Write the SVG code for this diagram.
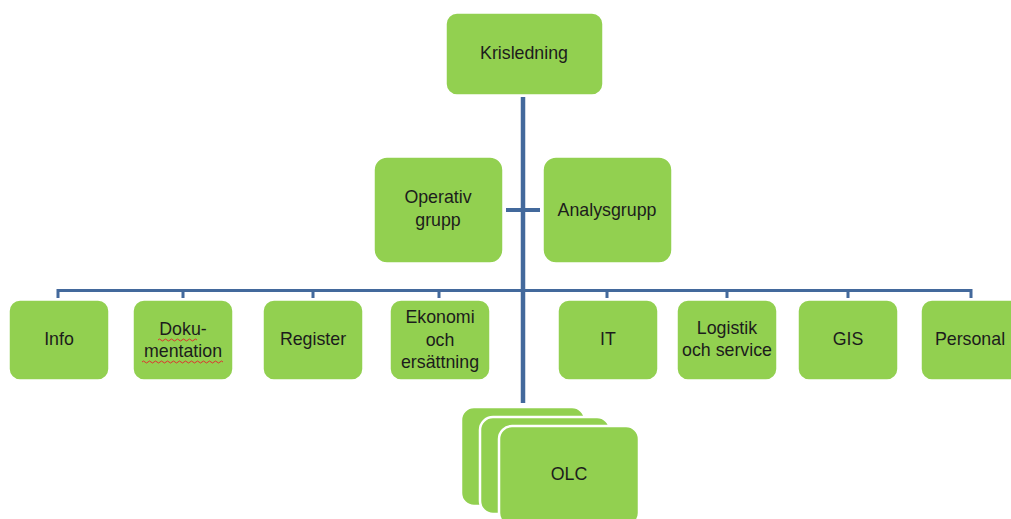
<svg xmlns="http://www.w3.org/2000/svg" width="1011" height="519" viewBox="0 0 1011 519">
<style>
.box{fill:#92d050;stroke:#ffffff;stroke-width:1.5}
.stk{fill:#92d050;stroke:#ffffff;stroke-width:2.5}
.t{font-family:"Liberation Sans",Arial,sans-serif;font-size:17.8px;fill:#1c1c1c;text-anchor:middle}
.ln{stroke:#43699c;fill:none}
</style>
<rect width="1011" height="519" fill="#ffffff"/>
<g id="connectors">
<line class="ln" x1="523" y1="97" x2="523" y2="403" stroke-width="4.5"/>
<line class="ln" x1="506" y1="210" x2="540" y2="210" stroke-width="4"/>
<path class="ln" stroke-width="3" d="M58 298V290.5H971V298M183 290.5V298M313 290.5V298M439 290.5V298M607 290.5V298M727 290.5V298M848 290.5V298"/>
</g>
<g id="krisledning"><rect class="box" x="446" y="13" width="157" height="82" rx="11"/><text class="t" x="524" y="59">Krisledning</text></g>
<g id="operativ"><rect class="box" x="374" y="157" width="129" height="106" rx="13"/><text class="t" x="438" y="203">Operativ</text><text class="t" x="438" y="226">grupp</text></g>
<g id="analys"><rect class="box" x="543" y="157" width="129" height="106" rx="13"/><text class="t" x="607" y="216">Analysgrupp</text></g>
<g id="info"><rect class="box" x="9" y="300" width="100" height="80" rx="11"/><text class="t" x="59" y="345">Info</text></g>
<g id="dokumentation"><rect class="box" x="133" y="300" width="100" height="80" rx="11"/><text class="t" x="183" y="335">Doku-</text><text class="t" x="183" y="357">mentation</text>
<path d="M158 340q1.5-2 3 0t3 0t3 0t3 0t3 0t3 0t3 0t3 0t3 0t3 0t3 0t3 0t3 0M142 362q1.5-2 3 0t3 0t3 0t3 0t3 0t3 0t3 0t3 0t3 0t3 0t3 0t3 0t3 0t3 0t3 0t3 0t3 0t3 0t3 0t3 0t3 0t3 0t3 0t3 0t3 0t3 0t3 0" fill="none" stroke="#e03030" stroke-width="1"/></g>
<g id="register"><rect class="box" x="263" y="300" width="100" height="80" rx="11"/><text class="t" x="313" y="345">Register</text></g>
<g id="ekonomi"><rect class="box" x="390" y="300" width="100" height="80" rx="11"/><text class="t" x="440" y="323">Ekonomi</text><text class="t" x="440" y="346">och</text><text class="t" x="440" y="368">ersättning</text></g>
<g id="it"><rect class="box" x="558" y="300" width="100" height="80" rx="11"/><text class="t" x="608" y="345">IT</text></g>
<g id="logistik"><rect class="box" x="677" y="300" width="100" height="80" rx="11"/><text class="t" x="727" y="334">Logistik</text><text class="t" x="727" y="356">och service</text></g>
<g id="gis"><rect class="box" x="798" y="300" width="100" height="80" rx="11"/><text class="t" x="848" y="345">GIS</text></g>
<g id="personal"><rect class="box" x="921" y="300" width="100" height="80" rx="11"/><text class="t" x="970" y="345">Personal</text></g>
<g id="olc">
<rect class="stk" x="461" y="407" width="124" height="99" rx="13"/>
<rect class="stk" x="480" y="417" width="130" height="97" rx="13"/>
<rect class="stk" x="499" y="426" width="140" height="100" rx="13"/>
<text class="t" x="569" y="480">OLC</text>
</g>
</svg>
